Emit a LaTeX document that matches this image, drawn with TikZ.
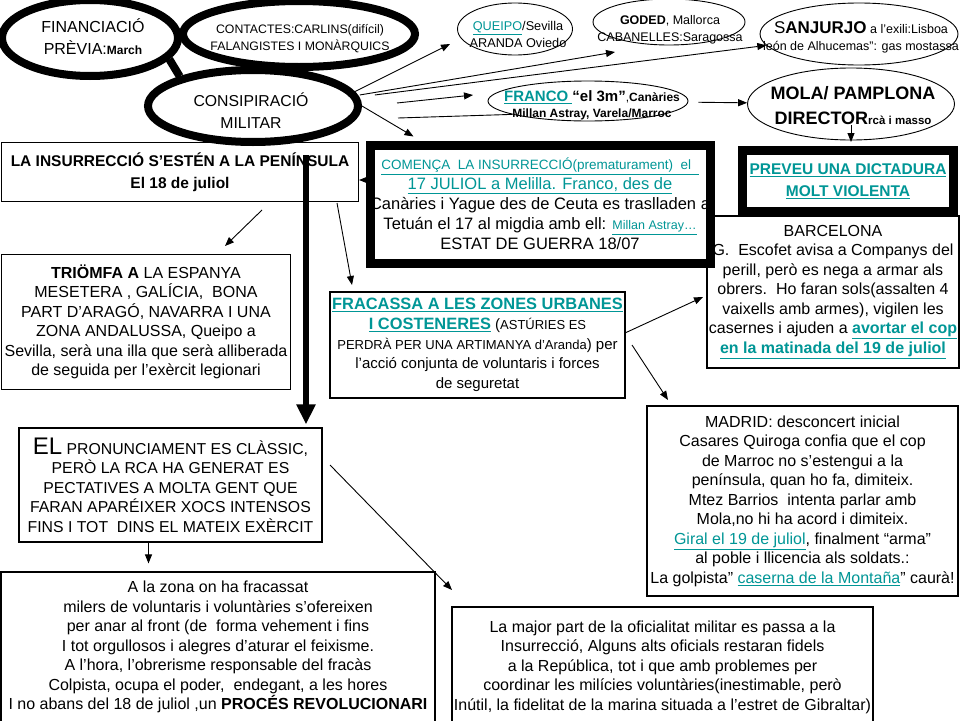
\documentclass[tikz,border=0pt]{standalone}
\usepackage{fontspec}
\setmainfont{Liberation Sans}
\usetikzlibrary{shapes.geometric,arrows.meta}
\definecolor{linkteal}{RGB}{0,150,150}
\newcommand{\lnk}[1]{\textcolor{linkteal}{\underline{#1}}}
\newcommand{\smalltxt}{\fontsize{12.5}{14}\selectfont}
\begin{document}
\begin{tikzpicture}[x=1pt, y=-1pt,
  thickoval/.style={ellipse, draw, line width=\consOvalWidth, inner sep=0pt},
  thinoval/.style={ellipse, draw, line width=0.9pt, inner sep=0pt},
  ovaltext/.style={align=center, inner sep=0pt},
  thickbox/.style={rectangle, draw, line width=\consBoxWidth, inner sep=0pt, align=center},
  thinbox/.style={rectangle, draw, line width=1.1pt, inner sep=0pt, align=center},
  arr/.style={-{Triangle[length=9pt,width=7pt]}, line width=0.9pt},
  bigarr/.style={-{Triangle[length=20pt,width=18pt]}, line width=6pt}]
% Slide exported as a map of the 1936 uprising
\providecommand{\consOvalWidth}{8pt}
\providecommand{\consBoxWidth}{9pt}
\providecommand{\bodyfont}{\fontsize{16}{19.5}\selectfont}
\fill[white] (0,0) rectangle (960,720);
\useasboundingbox (0,0) rectangle (960,720);
% Thick ovals at the top left
\node[thickoval, minimum width=176, minimum height=76] (financ) at (90,38) {};
\node[ovaltext, font=\fontsize{16}{22}\selectfont] (financTxt) at (93,37)
  {FINANCIACIÓ\\PRÈVIA:{\fontsize{12}{14}\selectfont\bfseries March}};
\node[thickoval, minimum width=232, minimum height=66] (contact) at (299,34) {};
\node[ovaltext, font=\fontsize{12.3}{17}\selectfont] (contactTxt) at (300,39)
  {CONTACTES:CARLINS(difícil)\\FALANGISTES I MONÀRQUICS};
\node[thickoval, minimum width=210, minimum height=72] (consp) at (253,106) {};
\node[ovaltext, font=\fontsize{15.8}{22}\selectfont] (conspTxt) at (251,111)
  {CONSIPIRACIÓ\\MILITAR};
% Generals
\node[thinoval, minimum width=115, minimum height=52] (queipo) at (515,29) {};
\node[ovaltext, font=\fontsize{12.7}{17}\selectfont] (queipoTxt) at (518,34)
  {\lnk{QUEIPO}/Sevilla\\ARANDA Oviedo};
\node[thinoval, minimum width=152, minimum height=46] (goded) at (669,22) {};
\node[ovaltext, font=\fontsize{12.5}{16.5}\selectfont] (godedTxt) at (670,30)
  {\textbf{GODED}, Mallorca\\CABANELLES:Saragossa};
\node[thinoval, minimum width=198, minimum height=62] (sanj) at (859,34) {};
\node[ovaltext, font=\fontsize{12.5}{17}\selectfont] (sanjTxt) at (861,37)
  {{\fontsize{17}{18}\selectfont S\textbf{ANJURJO}} a l’exili:Lisboa\\león de Alhucemas”: gas mostassa};
\node[thinoval, minimum width=200, minimum height=40] (franco) at (588,101) {};
\node[ovaltext, font=\fontsize{12}{16}\selectfont] (francoTxt) at (592,105)
  {\lnk{\textbf{\fontsize{15}{16}\selectfont FRANCO }}\textbf{\fontsize{15}{16}\selectfont “el 3m”},\textbf{Canàries}\\\textbf{Millan Astray, Varela/Marroc}};
\node[thinoval, minimum width=207, minimum height=72] (mola) at (851,104) {};
\node[ovaltext, font=\fontsize{18}{25}\selectfont\bfseries] (molaTxt) at (853,106)
  {MOLA/ PAMPLONA\\DIRECTOR{\fontsize{11.5}{13}\selectfont rcà i masso}};
% Boxes
\node[thickbox, minimum width=211, minimum height=61, font=\fontsize{15.5}{22}\selectfont\bfseries] (preveu) at (848,181)
  {\lnk{PREVEU UNA DICTADURA}\\\lnk{MOLT VIOLENTA}};
\node[thinbox, minimum width=357, minimum height=59, font=\fontsize{15.5}{22}\selectfont\bfseries] (insur) at (180,172)
  {LA INSURRECCIÓ S’ESTÉN A LA PENÍNSULA\\El 18 de juliol};
\node[thickbox, minimum width=326, minimum height=118, font=\fontsize{16.5}{20}\selectfont] (comenca) at (540,204)
  {\lnk{\fontsize{13.5}{14}\selectfont COMENÇA\ \ LA INSURRECCIÓ(prematurament)\ \ el\ \ }\\
   \lnk{17 JULIOL a Melilla. Franco, des de}\\
   Canàries i Yague des de Ceuta es traslladen a\\
   Tetuán el 17 al migdia amb ell: \lnk{\smalltxt Millan Astray…}\\
   ESTAT DE GUERRA 18/07};
\node[thinbox, minimum width=289, minimum height=135, font=\bodyfont] (triomfa) at (146,322)
  {\textbf{TRIÖMFA A} LA ESPANYA\\MESETERA , GALÍCIA,\ \ BONA\\PART D’ARAGÓ, NAVARRA I UNA\\
   ZONA ANDALUSSA, Queipo a\\Sevilla, serà una illa que serà alliberada\\de seguida per l'exèrcit legionari};
\node[thinbox, minimum width=295, minimum height=106, font=\fontsize{15}{19.7}\selectfont] (fracassa) at (477.5,345)
  {\lnk{\textbf{\fontsize{16.4}{18}\selectfont FRACASSA A LES ZONES URBANES}}\\
   \lnk{\textbf{\fontsize{16.4}{18}\selectfont I COSTENERES}} ({\fontsize{13}{14}\selectfont ASTÚRIES ES}\\
   {\fontsize{13}{14}\selectfont PERDRÀ PER UNA ARTIMANYA d’Aranda}) per\\
   l’acció conjunta de voluntaris i forces\\de seguretat};
\node[thinbox, minimum width=252, minimum height=152, font=\bodyfont] (barcelona) at (833,292)
  {BARCELONA\\G.\ \ Escofet avisa a Companys del\\perill, però es nega a armar als\\
   obrers.\ \ Ho faran sols(assalten 4\\vaixells amb armes), vigilen les\\
   casernes i ajuden a \lnk{\textbf{avortar el cop}}\\\lnk{\textbf{en la matinada del 19 de juliol}}};
\node[thinbox, minimum width=311, minimum height=190, font=\bodyfont] (madrid) at (802.5,501)
  {MADRID: desconcert inicial\\Casares Quiroga confia que el cop\\de Marroc no s’estengui a la\\
   península, quan ho fa, dimiteix.\\Mtez Barrios\ \ intenta parlar amb\\Mola,no hi ha acord i dimiteix.\\
   \lnk{Giral el 19 de juliol}, finalment “arma”\\al poble i llicencia als soldats.:\\
   La golpista” \lnk{caserna de la Montaña}” caurà!};
\node[thinbox, minimum width=303, minimum height=114, font=\fontsize{15.8}{19.5}\selectfont] (el) at (170.5,485)
  {{\fontsize{24}{24}\selectfont EL} PRONUNCIAMENT ES CLÀSSIC,\\PERÒ LA RCA HA GENERAT ES\\
   PECTATIVES A MOLTA GENT QUE\\FARAN APARÉIXER XOCS INTENSOS\\FINS I TOT\ \ DINS EL MATEIX EXÈRCIT};
\node[thinbox, minimum width=434, minimum height=150, font=\bodyfont] (zona) at (218,647)
  {A la zona on ha fracassat\\milers de voluntaris i voluntàries s’ofereixen\\
   per anar al front (de\ \ forma vehement i fins\\I tot orgullosos i alegres d’aturar el feixisme.\\
   A l’hora, l’obrerisme responsable del fracàs\\Colpista, ocupa el poder,\ \ endegant, a les hores\\
   I no abans del 18 de juliol ,un \textbf{PROCÉS REVOLUCIONARI}};
\node[thinbox, minimum width=421, minimum height=120, font=\bodyfont] (major) at (662.5,667)
  {La major part de la oficialitat militar es passa a la\\Insurrecció, Alguns alts oficials restaran fidels\\
   a la República, tot i que amb problemes per\\coordinar les milícies voluntàries(inestimable, però\\
   Inútil, la fidelitat de la marina situada a l’estret de Gibraltar)};
% Free ends of the connectors
\coordinate (queipoTip) at (450,44);
\coordinate (godedTip) at (615,52);
\coordinate (francoTail) at (397,103);
\coordinate (francoTip) at (473,95);
\coordinate (francoLoose) at (398,118);
\coordinate (insurOutA) at (262,210);
\coordinate (triomfaTip) at (225,246);
\coordinate (insurOutB) at (337,203);
\coordinate (fracassaTip) at (352,285);
\coordinate (bigTop) at (306,155);
\coordinate (elOut) at (330,465);
\coordinate (majorTip) at (452,590);
\coordinate (fracOutA) at (625,333);
\coordinate (barcaTip) at (703,297);
\coordinate (fracOutB) at (632,345);
\coordinate (madridTip) at (668,400);
% Connectors
\draw[line width=8pt] (financ.-15) -- (consp.158);
\draw[arr] (consp.8) -- (queipoTip);
\draw[arr] ([xshift=2pt]consp.6) -- (godedTip);
\draw[arr] ([xshift=17pt]consp.6) -- (sanj.187);
\draw[arr] (francoTail) -- (francoTip);
\draw[line width=0.9pt] (francoLoose) -- (franco.190);
\draw[arr] (consp.east) -- ([xshift=48pt,yshift=4pt]comenca.north west);
\draw[arr, shorten <=10pt] (franco) -- (mola);
\draw[arr, shorten >=4pt] ([yshift=15pt]mola.south) -- (mola.south |- preveu.north);
\draw[arr] ([yshift=24pt]comenca.west) -- ([yshift=24pt]comenca.west -| insur.east);
\draw[arr] (insurOutA) -- (triomfaTip);
\draw[arr] (insurOutB) -- (fracassaTip);
\draw[bigarr] (bigTop) -- ([yshift=3pt]bigTop |- el.north);
\draw[arr, shorten >=8pt] ([xshift=-22pt]el.south) -- ([xshift=-22pt]el.south |- zona.north);
\draw[arr] (elOut) -- (majorTip);
\draw[arr] (fracOutA) -- (barcaTip);
\draw[arr] (fracOutB) -- (madridTip);
\end{tikzpicture}
\end{document}
